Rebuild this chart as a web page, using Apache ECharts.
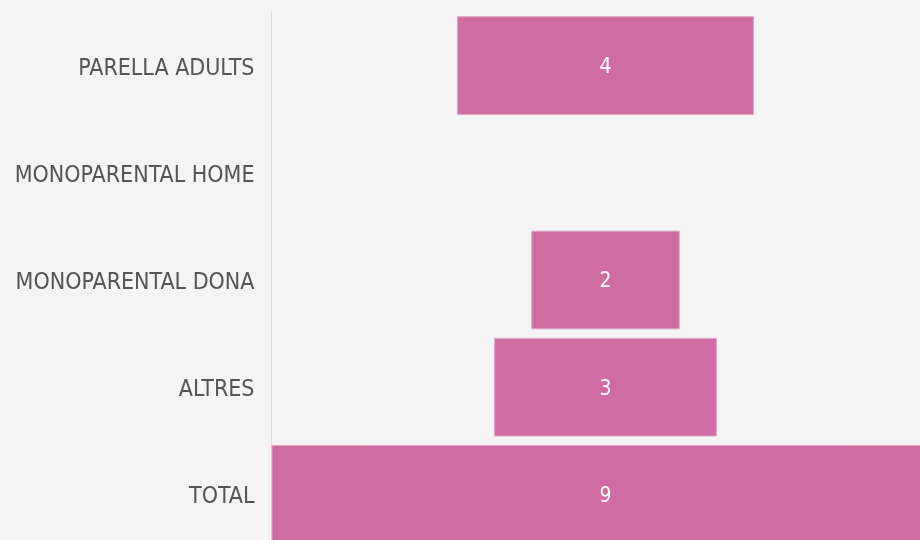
<!DOCTYPE html>
<html>
<head>
<meta charset="utf-8">
<script src="https://cdn.jsdelivr.net/npm/echarts@6/dist/echarts.min.js"></script>
<style>
html,body{margin:0;padding:0;background:#f4f4f4;overflow:hidden;width:920px;height:540px;}
#chart{width:940px;height:560px;}
</style>
</head>
<body>
<div id="chart"></div>
<script>
const categories = ['PARELLA ADULTS', 'MONOPARENTAL HOME', 'MONOPARENTAL DONA', 'ALTRES', 'TOTAL'];
const values = [4, 0, 2, 3, 9];

const maxValue = Math.max.apply(null, values);
const offsets = values.map(v => (maxValue - v) / 2);
const barItems = values.map(v => ({
  value: v,
  itemStyle: v > 0 ? { borderColor: '#e0a2c3', borderWidth: 1 } : { borderWidth: 0 }
}));

const FONT = 'DejaVu Sans Condensed, DejaVu Sans, sans-serif';
const chart = echarts.init(document.getElementById('chart'));
chart.setOption({
  backgroundColor: '#f4f4f4',
  animation: false,
  grid: { left: 271.5, top: 12, width: 668, height: 536, containLabel: false },
  xAxis: { type: 'value', min: 0, max: maxValue, show: false },
  yAxis: {
    type: 'category', data: categories, inverse: true,
    axisLine: { show: true, lineStyle: { color: '#dddddd', width: 1 } },
    axisTick: { show: false },
    splitLine: { show: false },
    axisLabel: {
      color: '#555555', fontSize: 23, margin: 17, fontFamily: FONT,
      verticalAlign: 'top', lineHeight: 6
    }
  },
  series: [
    {
      type: 'bar', stack: 'f', data: offsets, silent: true,
      itemStyle: { color: 'transparent' }, barCategoryGap: '8%'
    },
    {
      type: 'bar', stack: 'f', data: barItems, barCategoryGap: '8%',
      itemStyle: { color: '#cf6ca1' },
      label: {
        show: true, position: 'inside', color: '#ffffff', fontSize: 21,
        fontFamily: FONT, offset: [0, 2],
        formatter: p => (p.value > 0 ? String(p.value) : '')
      }
    }
  ]
});
</script>
</body>
</html>
